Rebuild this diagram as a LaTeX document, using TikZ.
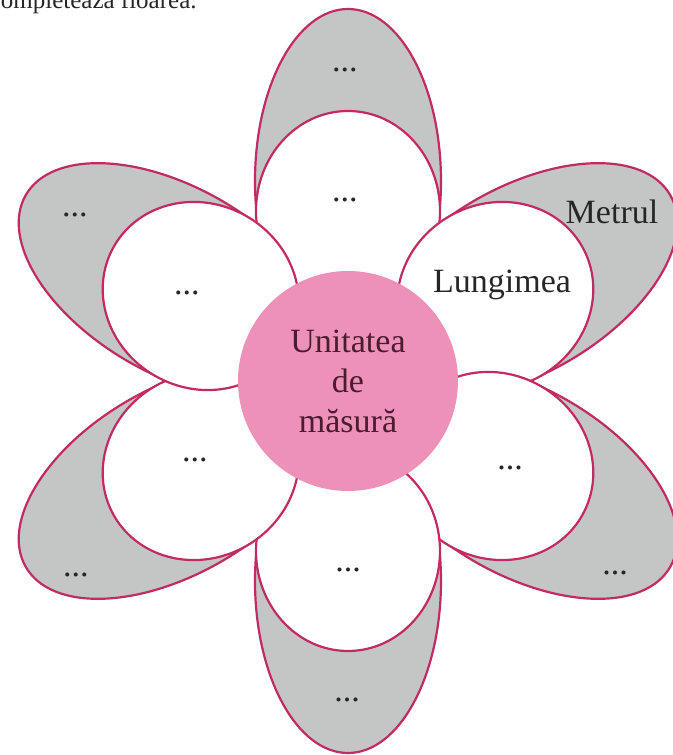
\documentclass[tikz,border=0pt]{standalone}
\usepackage{fontspec}
\setmainfont{Liberation Serif}
\usetikzlibrary{positioning}
\definecolor{petalline}{HTML}{C22A62}
\definecolor{petalgray}{HTML}{C4C6C6}
\definecolor{heartpink}{HTML}{EE91B9}
\definecolor{hearttext}{HTML}{4A1C30}
\definecolor{inktext}{HTML}{262626}

\begin{document}
\begin{tikzpicture}[x=0.5pt,y=0.5pt,
  outerpetal/.style={draw=petalline,line width=1.1pt,fill=petalgray},
  innerpetal/.style={draw=petalline,line width=1.1pt,fill=white},
  petaltext/.style={text=inktext,font=\fontsize{17}{20}\selectfont,inner sep=1pt},
  heart/.style={circle,fill=heartpink,minimum size=110pt,inner sep=0pt,align=center,
    text=hearttext,font=\fontsize{17}{20}\selectfont}]
\useasboundingbox (-348,-374) rectangle (325,381);

% task line, cut by the top edge
\node[anchor=base east,inner sep=0pt,text=inktext,font=\fontsize{12.5}{14}\selectfont] (task) at (-151,372) {Completează floarea.};

% petals: grey ones behind, white ones on top
\foreach \a in {90,30,-30,-90,-150,150}
  \draw[outerpetal,rotate=\a] (200,0) ellipse [x radius=172,y radius=93];
\foreach \a in {90,30,-30,-90,-150,150}
  \draw[innerpetal,rotate=\a] (170,0) ellipse [x radius=100,y radius=92];

\node[heart] (unit) at (0,0) {Unitatea\\de\\măsură};

% inner petals
\node[petaltext] (inner90) at (-3,181) {...};
\node[petaltext] (inner30) at (154,96) {Lungimea};
\node[petaltext] (inner-30) at (162,-87) {...};
\node[petaltext] (inner-90) at (0,-189) {...};
\node[petaltext] (inner-150) at (-153,-79) {...};
\node[petaltext] (inner150) at (-161,88) {...};
% outer petals
\node[petaltext] (outer90) at (-3,311) {...};
\node[petaltext] (outer30) at (264,169) {Metrul};
\node[petaltext] (outer-30) at (267,-192) {...};
\node[petaltext] (outer-90) at (-1,-319) {...};
\node[petaltext] (outer-150) at (-272,-194) {...};
\node[petaltext] (outer150) at (-273,166) {...};
\end{tikzpicture}
\end{document}
